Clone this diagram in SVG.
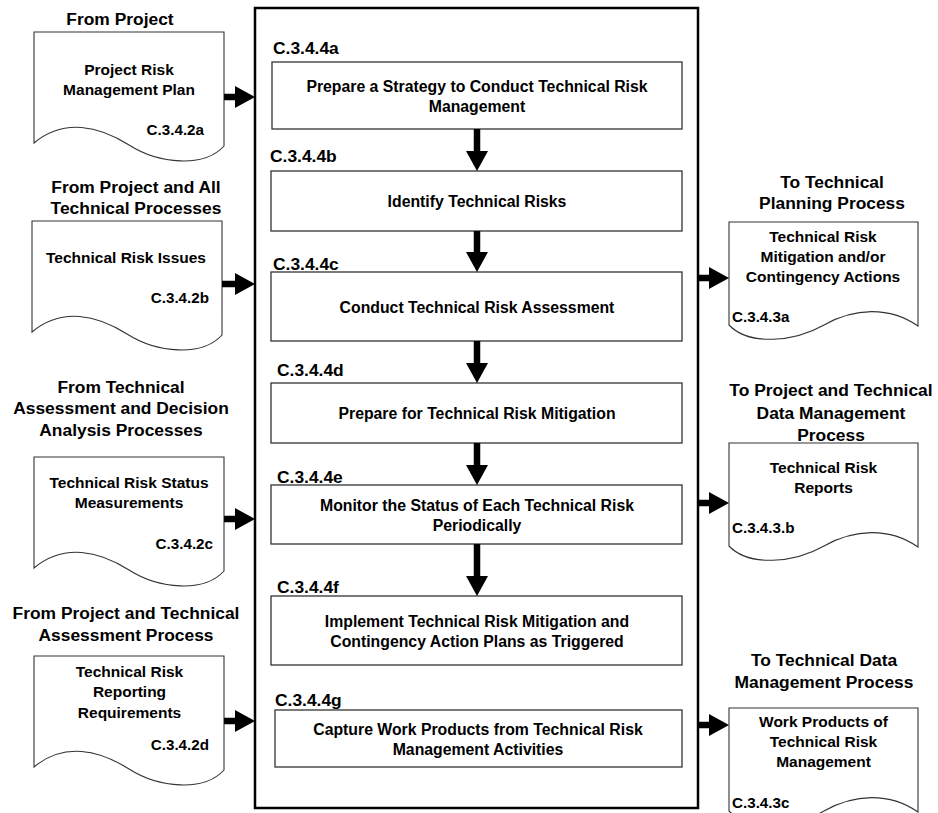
<svg xmlns="http://www.w3.org/2000/svg" width="938" height="813" viewBox="0 0 938 813">
  <style>
    text { font-family: "Liberation Sans", Arial, sans-serif; font-weight: bold; fill: #000; }
    .hdr { font-size: 17.4px; text-anchor: middle; }
    .doc-t { font-size: 15.5px; text-anchor: middle; }
    .code { font-size: 15.2px; }
    .code-r { font-size: 15.2px; text-anchor: end; }
    .step { font-size: 17.4px; }
    .box-t { font-size: 15.8px; text-anchor: middle; }
    .doc { fill: #fff; stroke: #333; stroke-width: 1.1; }
    .box { fill: #fff; stroke: #333; stroke-width: 1.3; }
    .frame { fill: none; stroke: #000; stroke-width: 2.5; }
    .flow { stroke: #000; stroke-width: 6.5; fill: none; marker-end: url(#head); }
  </style>
  <defs>
    <marker id="head" markerUnits="userSpaceOnUse" markerWidth="20" markerHeight="22" refX="0" refY="11" orient="auto" overflow="visible">
      <path d="M0,0 L20,11 L0,22 Z" fill="#000"/>
    </marker>
    <!-- document outline, wave dipping on the right (inputs) -->
    <path id="docL" d="M0,0 H190 V114 C170,136 125,132 95,113 C65,94 30,86 0,111 Z"/>
    <!-- document outline, wave dipping on the left (outputs) -->
    <path id="docR" d="M0,0 H189 V104 C160,84 125,86 95,103 C65,120 20,124 0,103 Z"/>
  </defs>

  <rect width="938" height="813" fill="#fff"/>

  <!-- process frame -->
  <rect id="frame" class="frame" x="255" y="8" width="443" height="800"/>

  <!-- inputs -->
  <g id="in-a">
    <text class="hdr" x="120" y="24.5">From Project</text>
    <use href="#docL" class="doc" x="34" y="32"/>
    <text class="doc-t" x="129" y="75">Project Risk</text>
    <text class="doc-t" x="129" y="95">Management Plan</text>
    <text class="code-r" x="204" y="135">C.3.4.2a</text>
  </g>
  <g id="in-b">
    <text class="hdr" x="136" y="193">From Project and All</text>
    <text class="hdr" x="136" y="214">Technical Processes</text>
    <use href="#docL" class="doc" x="32" y="221"/>
    <text class="doc-t" x="126" y="263">Technical Risk Issues</text>
    <text class="code-r" x="209" y="303">C.3.4.2b</text>
  </g>
  <g id="in-c">
    <text class="hdr" x="121" y="392.5">From Technical</text>
    <text class="hdr" x="121" y="414">Assessment and Decision</text>
    <text class="hdr" x="121" y="436">Analysis Processes</text>
    <use href="#docL" class="doc" x="34" y="457"/>
    <text class="doc-t" x="129" y="488">Technical Risk Status</text>
    <text class="doc-t" x="129" y="508">Measurements</text>
    <text class="code-r" x="213" y="549">C.3.4.2c</text>
  </g>
  <g id="in-d">
    <text class="hdr" x="126" y="619">From Project and Technical</text>
    <text class="hdr" x="126" y="640.5">Assessment Process</text>
    <use href="#docL" class="doc" x="34" y="656"/>
    <text class="doc-t" x="129.5" y="677">Technical Risk</text>
    <text class="doc-t" x="129.5" y="697">Reporting</text>
    <text class="doc-t" x="129.5" y="718">Requirements</text>
    <text class="code-r" x="209" y="750">C.3.4.2d</text>
  </g>

  <!-- activities -->
  <g id="step-a">
    <text class="step" x="273" y="54">C.3.4.4a</text>
    <rect class="box" x="272" y="62" width="410" height="67"/>
    <text class="box-t" x="477" y="91.5">Prepare a Strategy to Conduct Technical Risk</text>
    <text class="box-t" x="477" y="111.5">Management</text>
  </g>
  <g id="step-b">
    <text class="step" x="270" y="162">C.3.4.4b</text>
    <rect class="box" x="271" y="171" width="411" height="60"/>
    <text class="box-t" x="477" y="207">Identify Technical Risks</text>
  </g>
  <g id="step-c">
    <text class="step" x="273" y="270">C.3.4.4c</text>
    <rect class="box" x="271" y="272" width="411" height="69"/>
    <text class="box-t" x="477" y="312.5">Conduct Technical Risk Assessment</text>
  </g>
  <g id="step-d">
    <text class="step" x="277" y="376">C.3.4.4d</text>
    <rect class="box" x="271" y="383" width="411" height="60"/>
    <text class="box-t" x="477" y="419">Prepare for Technical Risk Mitigation</text>
  </g>
  <g id="step-e">
    <text class="step" x="277" y="483">C.3.4.4e</text>
    <rect class="box" x="271" y="485" width="411" height="59"/>
    <text class="box-t" x="477" y="510.5">Monitor the Status of Each Technical Risk</text>
    <text class="box-t" x="477" y="530.5">Periodically</text>
  </g>
  <g id="step-f">
    <text class="step" x="277" y="593">C.3.4.4f</text>
    <rect class="box" x="271" y="596" width="411" height="69"/>
    <text class="box-t" x="477" y="626.5">Implement Technical Risk Mitigation and</text>
    <text class="box-t" x="477" y="646.5">Contingency Action Plans as Triggered</text>
  </g>
  <g id="step-g">
    <text class="step" x="275" y="706">C.3.4.4g</text>
    <rect class="box" x="275" y="710" width="407" height="57"/>
    <text class="box-t" x="478" y="734.5">Capture Work Products from Technical Risk</text>
    <text class="box-t" x="478" y="754.5">Management Activities</text>
  </g>

  <!-- outputs -->
  <g id="out-a">
    <text class="hdr" x="832" y="187.5">To Technical</text>
    <text class="hdr" x="832" y="209">Planning Process</text>
    <use href="#docR" class="doc" x="729" y="222"/>
    <text class="doc-t" x="823" y="242">Technical Risk</text>
    <text class="doc-t" x="823" y="262">Mitigation and/or</text>
    <text class="doc-t" x="823" y="282">Contingency Actions</text>
    <text class="code" x="732" y="322">C.3.4.3a</text>
  </g>
  <g id="out-b">
    <text class="hdr" x="831" y="395.8">To Project and Technical</text>
    <text class="hdr" x="831" y="418.5">Data Management</text>
    <text class="hdr" x="831" y="440.8">Process</text>
    <use href="#docR" class="doc" x="729" y="443"/>
    <text class="doc-t" x="823.5" y="473">Technical Risk</text>
    <text class="doc-t" x="823.5" y="493">Reports</text>
    <text class="code" x="732" y="533">C.3.4.3.b</text>
  </g>
  <g id="out-c">
    <text class="hdr" x="824" y="665.8">To Technical Data</text>
    <text class="hdr" x="824" y="687.5">Management Process</text>
    <use href="#docR" class="doc" x="729" y="708"/>
    <text class="doc-t" x="823.5" y="727">Work Products of</text>
    <text class="doc-t" x="823.5" y="747">Technical Risk</text>
    <text class="doc-t" x="823.5" y="767">Management</text>
    <text class="code" x="732" y="808">C.3.4.3c</text>
  </g>

  <!-- connectors -->
  <g id="connectors">
    <line class="flow" x1="224" y1="97" x2="235" y2="97"/>
    <line class="flow" x1="222" y1="284" x2="235" y2="284"/>
    <line class="flow" x1="224" y1="519" x2="235" y2="519"/>
    <line class="flow" x1="224" y1="721" x2="235" y2="721"/>

    <line class="flow" x1="477" y1="129" x2="477" y2="151"/>
    <line class="flow" x1="477" y1="231" x2="477" y2="252"/>
    <line class="flow" x1="477" y1="341" x2="477" y2="363"/>
    <line class="flow" x1="477" y1="443" x2="477" y2="465"/>
    <line class="flow" x1="477" y1="544" x2="477" y2="576"/>

    <line class="flow" x1="697" y1="278" x2="709" y2="278"/>
    <line class="flow" x1="697" y1="503" x2="709" y2="503"/>
    <line class="flow" x1="697" y1="725" x2="709" y2="725"/>
  </g>
</svg>
